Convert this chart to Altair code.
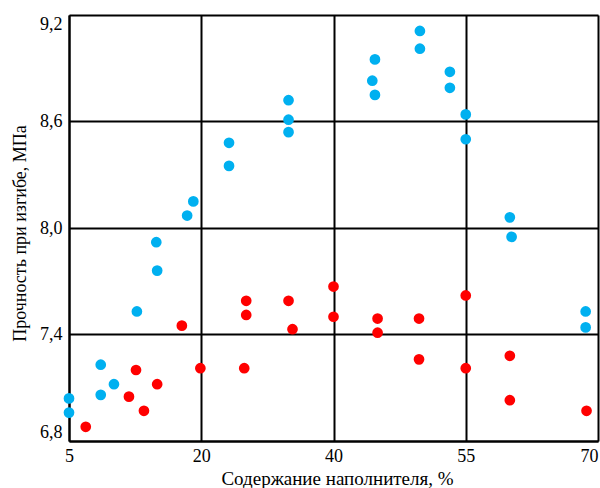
import altair as alt
import pandas as pd

# Blue series (upper curve)
blue_x = [5, 5, 8.6, 8.6, 10.1, 12.7, 14.9, 15.0, 18.4, 19.1, 24.2, 24.2, 33.2, 33.2, 33.2,
          44.7, 44.4, 44.7, 49.8, 49.8, 53.2, 53.2, 55, 55, 60.0, 60.2, 68.6, 68.6]
blue_y = [7.04, 6.96, 7.23, 7.06, 7.12, 7.53, 7.92, 7.76, 8.07, 8.15, 8.48, 8.35, 8.72, 8.61, 8.54,
          8.95, 8.83, 8.75, 9.11, 9.01, 8.88, 8.79, 8.64, 8.50, 8.06, 7.95, 7.53, 7.44]

# Red series (lower curve)
red_x = [6.9, 11.8, 13.5, 12.6, 15.0, 17.8, 19.9, 26.8, 26.8, 26.5, 33.2, 33.8, 40, 40,
         45.0, 45.0, 49.7, 49.7, 55, 55, 60, 60, 68.7]
red_y = [6.88, 7.05, 6.97, 7.20, 7.12, 7.45, 7.21, 7.59, 7.51, 7.21, 7.59, 7.43, 7.67, 7.50,
         7.49, 7.41, 7.49, 7.26, 7.62, 7.21, 7.28, 7.03, 6.97]

x_ticks = [5, 20, 40, 55, 70]
y_ticks = [6.8, 7.4, 8.0, 8.6, 9.2]

W, H = 529, 426

df = pd.DataFrame({
    "x": blue_x + red_x,
    "y": blue_y + red_y,
    "s": ["blue"] * len(blue_x) + ["red"] * len(red_x),
})

font = "Liberation Serif"

x_axis = alt.Axis(
    values=x_ticks, grid=True, gridColor="black", gridWidth=2, gridOpacity=1,
    domainColor="black", domainWidth=2, ticks=False,
    labelFont=font, labelFontSize=18, labelColor="black", labelPadding=6,
    labelAlign=alt.ExprRef(expr="datum.value == 70 ? 'right' : 'center'"),
    title="Содержание наполнителя, %", titleFont=font, titleFontSize=19,
    titleFontWeight="normal", titleColor="black", titlePadding=4, titleX=268,
)
y_axis = alt.Axis(
    values=y_ticks, grid=True, gridColor="black", gridWidth=2, gridOpacity=1,
    domainColor="black", domainWidth=2, ticks=False,
    labelFont=font, labelFontSize=18, labelColor="black", labelPadding=7,
    labelExpr="replace(format(datum.value, '.1f'), '.', ',')",
    labelBaseline=alt.ExprRef(expr="datum.value == 9.2 ? 'top' : (datum.value == 6.8 ? 'bottom' : 'middle')"),
    title="Прочность при изгибе, МПа", titleFont=font, titleFontSize=18,
    titleFontWeight="normal", titleColor="black", titlePadding=10, titleY=218,
)

chart = alt.Chart(df).mark_circle(size=115, opacity=1).encode(
    x=alt.X("x:Q", scale=alt.Scale(domain=x_ticks, range=[0, W / 4, W / 2, 3 * W / 4, W]), axis=x_axis),
    y=alt.Y("y:Q", scale=alt.Scale(domain=[6.8, 9.2], nice=False, zero=False), axis=y_axis),
    color=alt.Color("s:N", scale=alt.Scale(domain=["blue", "red"], range=["#00B0F0", "#FF0000"]), legend=None),
).properties(
    width=W, height=H,
    autosize=alt.AutoSizeParams(type="none"),
    padding={"left": 69, "top": 15, "right": 2, "bottom": 47},
).configure_view(stroke="black", strokeWidth=2).configure(background="white")

chart.save("out.html", embed_options={"renderer": "svg", "actions": False})
